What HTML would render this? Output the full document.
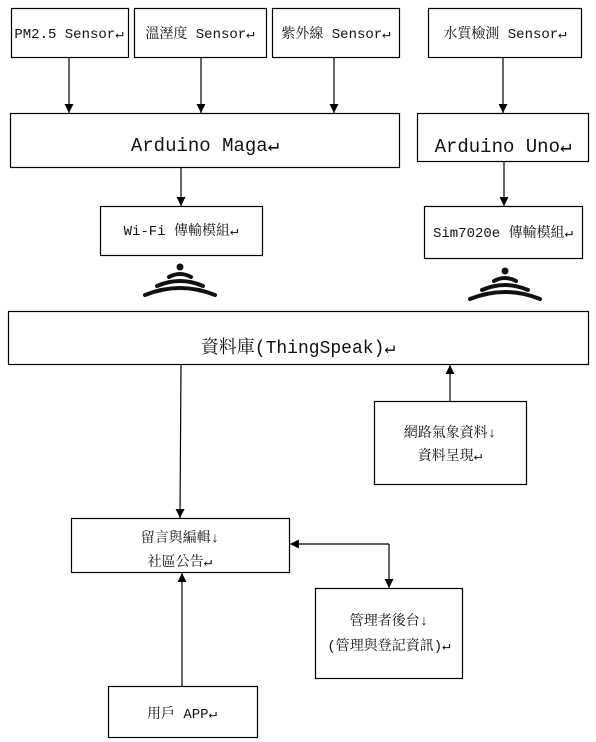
<!DOCTYPE html>
<html><head><meta charset="utf-8"><style>
html,body{margin:0;padding:0;background:#fff;}
svg{display:block;}
text{font-family:"Liberation Mono","Noto Serif CJK TC","Noto Sans CJK TC",monospace;fill:#111;}
</style></head><body>
<svg width="596" height="742" viewBox="0 0 596 742" xmlns="http://www.w3.org/2000/svg">
<defs>
<marker id="a" viewBox="0 0 10 10" refX="10" refY="5" markerWidth="9" markerHeight="9" markerUnits="userSpaceOnUse" orient="auto"><path d="M0,0L10,5L0,10z" fill="#000"/></marker>
<g id="wifi" fill="none" stroke="#111" stroke-linecap="round">
<circle cx="0" cy="0" r="3.5" fill="#111" stroke="none"/>
<path d="M-11,10 Q0,4 11,10" stroke-width="4"/>
<path d="M-23,19 Q0,9 23,19" stroke-width="4"/>
<path d="M-35,28 Q0,14 35,28" stroke-width="4"/>
</g>
</defs>
<g fill="#fff" stroke="#000" stroke-width="1.2">
<rect x="11.5" y="8.5" width="117" height="49"/>
<rect x="134.5" y="8.5" width="132" height="49"/>
<rect x="272.5" y="8.5" width="127" height="49"/>
<rect x="428.5" y="8.5" width="153" height="49"/>
<rect x="10.5" y="113.5" width="389" height="54"/>
<rect x="417.5" y="113.5" width="171" height="48"/>
<rect x="100.5" y="206.5" width="162" height="49"/>
<rect x="424.5" y="206.5" width="158" height="52"/>
<rect x="8.5" y="311.5" width="580" height="53"/>
<rect x="374.5" y="401.5" width="152" height="83"/>
<rect x="71.5" y="518.5" width="218" height="54"/>
<rect x="315.5" y="588.5" width="147" height="90"/>
<rect x="108.5" y="686.5" width="149" height="51"/>
</g>
<g stroke="#000" stroke-width="1.2" fill="none">
<line x1="69" y1="58" x2="69" y2="113" marker-end="url(#a)"/>
<line x1="201" y1="58" x2="201" y2="113" marker-end="url(#a)"/>
<line x1="334" y1="58" x2="334" y2="113" marker-end="url(#a)"/>
<line x1="503" y1="58" x2="503" y2="113" marker-end="url(#a)"/>
<line x1="181" y1="168" x2="181" y2="206" marker-end="url(#a)"/>
<line x1="504" y1="162" x2="504" y2="206" marker-end="url(#a)"/>
<line x1="181" y1="365" x2="180" y2="518" marker-end="url(#a)"/>
<line x1="450" y1="401" x2="450" y2="365" marker-end="url(#a)"/>
<line x1="182" y1="686" x2="182" y2="573" marker-end="url(#a)"/>
<path d="M389,544 L290,544" marker-end="url(#a)"/>
<path d="M389,544 L389,588" marker-end="url(#a)"/>
</g>
<use href="#wifi" x="180" y="267"/>
<use href="#wifi" x="505" y="271"/>
<g font-size="14" text-anchor="middle">
<text x="69" y="38">PM2.5 Sensor↵</text>
<text x="200" y="38">溫溼度 Sensor↵</text>
<text x="336" y="38">紫外線 Sensor↵</text>
<text x="505" y="38">水質檢測 Sensor↵</text>
<text x="205" y="151" font-size="19">Arduino Maga↵</text>
<text x="503" y="152" font-size="19">Arduino Uno↵</text>
<text x="181" y="235">Wi-Fi 傳輸模組↵</text>
<text x="503" y="237">Sim7020e 傳輸模組↵</text>
<text x="298" y="353" font-size="18">資料庫(ThingSpeak)↵</text>
<text x="450" y="437">網路氣象資料↓</text>
<text x="450" y="460">資料呈現↵</text>
<text x="180" y="542">留言與編輯↓</text>
<text x="180" y="566">社區公告↵</text>
<text x="389" y="625">管理者後台↓</text>
<text x="389" y="650">(管理與登記資訊)↵</text>
<text x="182" y="718">用戶 APP↵</text>
</g>
</svg>
</body></html>
